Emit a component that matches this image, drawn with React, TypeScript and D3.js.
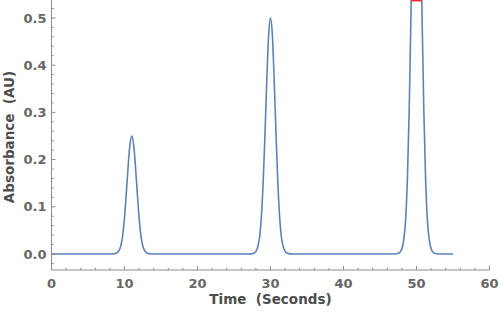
import React from "react";
import * as d3 from "d3";

// ---- data ----
const time: number[] = [
  0, 5,
  8, 8.25, 8.5, 8.75, 9, 9.25, 9.5, 9.75, 10, 10.25, 10.5, 10.75, 11, 11.25, 11.5, 11.75, 12, 12.25, 12.5, 12.75, 13, 13.25, 13.5, 13.75, 14,
  20,
  27, 27.25, 27.5, 27.75, 28, 28.25, 28.5, 28.75, 29, 29.25, 29.5, 29.75, 30, 30.25, 30.5, 30.75, 31, 31.25, 31.5, 31.75, 32, 32.25, 32.5, 32.75, 33,
  40,
  47, 47.25, 47.5, 47.75, 48, 48.25, 48.5, 48.75, 49, 49.25, 49.5, 49.75, 50, 50.25, 50.5, 50.75, 51, 51.25, 51.5, 51.75, 52, 52.25, 52.5, 52.75, 53,
  55,
];
const absorbance: number[] = [
  0, 0,
  0, 0.0001, 0.0004, 0.001, 0.0028, 0.0075, 0.0175, 0.039, 0.077, 0.129, 0.186, 0.232, 0.25, 0.232, 0.186, 0.129, 0.077, 0.039, 0.0175, 0.0075, 0.0028, 0.001, 0.0004, 0.0001, 0,
  0,
  0, 0.0002, 0.0008, 0.002, 0.0055, 0.015, 0.035, 0.079, 0.153, 0.257, 0.372, 0.465, 0.5, 0.465, 0.372, 0.257, 0.153, 0.079, 0.035, 0.015, 0.0055, 0.002, 0.0008, 0.0002, 0,
  0,
  0, 0.0004, 0.0015, 0.004, 0.011, 0.03, 0.07, 0.157, 0.306, 0.514, 0.744, 0.929, 1.0, 0.929, 0.744, 0.514, 0.306, 0.157, 0.07, 0.03, 0.011, 0.004, 0.0015, 0.0004, 0,
  0,
];
const xMajorTicks = [0, 10, 20, 30, 40, 50, 60];
const yMajorTicks = [0, 0.1, 0.2, 0.3, 0.4, 0.5];
const xLabel = "Time  (Seconds)";
const yLabel = "Absorbance  (AU)";

const W = 500;
const H = 316;
const left = 51.5;
const right = 489.5;
const top = 0;
const bottom = 270;

const xDomain: [number, number] = [0, 60];
const yDomain: [number, number] = [-0.0339, 0.538];

export default function App() {
  const x = d3.scaleLinear().domain(xDomain).range([left, right]);
  const y = d3.scaleLinear().domain(yDomain).range([bottom, top]);

  const pts: [number, number][] = time.map((t, i) => [t, absorbance[i]]);
  const line = d3
    .line<[number, number]>()
    .x((d) => x(d[0]))
    .y((d) => y(d[1]))
    .curve(d3.curveMonotoneX);

  // clipped segments where the data exceed the top of the plot
  const yMax = yDomain[1];
  const clipSegs: [number, number][] = [];
  let start: number | null = null;
  for (let i = 1; i < pts.length; i++) {
    const [t0, v0] = pts[i - 1];
    const [t1, v1] = pts[i];
    if (v0 < yMax && v1 >= yMax) start = t0 + ((yMax - v0) / (v1 - v0)) * (t1 - t0);
    if (v0 >= yMax && v1 < yMax && start !== null) {
      const end = t0 + ((v0 - yMax) / (v0 - v1)) * (t1 - t0);
      clipSegs.push([start, end]);
      start = null;
    }
  }

  const xMinor = d3.range(0, 60.001, 2).filter((v) => v % 10 !== 0);
  const yMinor = d3
    .range(-0.02, 0.53, 0.02)
    .map((v) => Math.round(v * 100) / 100)
    .filter((v) => Math.abs(v * 10 - Math.round(v * 10)) > 1e-6);

  const axisColor = "#8c8c8c";
  const tickLabelColor = "#666666";
  const titleColor = "#4d4d4d";
  const font = "'DejaVu Sans', sans-serif";

  return (
    <svg
      width={W}
      height={H}
      style={{ position: "absolute", left: 0, top: 0, background: "#fff" }}
    >
      <defs>
        <clipPath id="plotClip">
          <rect x={left} y={top} width={right - left} height={bottom - top} />
        </clipPath>
      </defs>

      <path
        d={line(pts) || ""}
        fill="none"
        stroke="#5e81b5"
        strokeWidth={1.6}
        clipPath="url(#plotClip)"
      />
      {clipSegs.map(([a, b], i) => (
        <line
          key={i}
          x1={x(a)}
          x2={x(b)}
          y1={0.7}
          y2={0.7}
          stroke="#f03030"
          strokeWidth={1.6}
        />
      ))}

      {/* axes */}
      <line x1={left} x2={left} y1={top} y2={bottom} stroke={axisColor} strokeWidth={1} />
      <line x1={left} x2={right} y1={bottom} y2={bottom} stroke={axisColor} strokeWidth={1} />

      {xMajorTicks.map((v) => (
        <g key={"xm" + v}>
          <line x1={x(v)} x2={x(v)} y1={bottom} y2={bottom - 4} stroke={axisColor} />
          <text
            x={x(v)}
            y={287.5}
            textAnchor="middle"
            fontFamily={font}
            fontWeight="bold"
            fontSize={13}
            fill={tickLabelColor}
          >
            {v}
          </text>
        </g>
      ))}
      {xMinor.map((v) => (
        <line key={"xn" + v} x1={x(v)} x2={x(v)} y1={bottom} y2={bottom - 2.2} stroke={axisColor} />
      ))}

      {yMajorTicks.map((v) => (
        <g key={"ym" + v}>
          <line x1={left} x2={left + 4} y1={y(v)} y2={y(v)} stroke={axisColor} />
          <text
            x={46.5}
            y={y(v)}
            dy="0.36em"
            textAnchor="end"
            fontFamily={font}
            fontWeight="bold"
            fontSize={13}
            fill={tickLabelColor}
          >
            {v.toFixed(1)}
          </text>
        </g>
      ))}
      {yMinor.map((v) => (
        <line key={"yn" + v} x1={left} x2={left + 2.2} y1={y(v)} y2={y(v)} stroke={axisColor} />
      ))}

      <text
        x={(left + right) / 2}
        y={303.5}
        textAnchor="middle"
        fontFamily={font}
        fontWeight="bold"
        fontSize={13.5}
        fill={titleColor}
        style={{ whiteSpace: "pre" }}
      >
        {xLabel}
      </text>
      <text
        transform={`translate(13.5, 137) rotate(-90)`}
        textAnchor="middle"
        fontFamily={font}
        fontWeight="bold"
        fontSize={13.5}
        fill={titleColor}
        style={{ whiteSpace: "pre" }}
      >
        {yLabel}
      </text>
    </svg>
  );
}
